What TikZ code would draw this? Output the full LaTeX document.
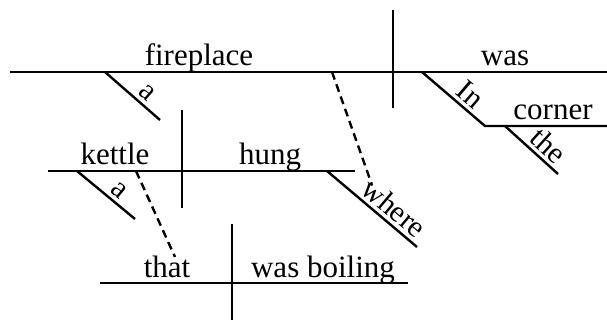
\documentclass[tikz,border=0pt]{standalone}
\usepackage{fontspec}
\setmainfont{Liberation Serif}
\begin{document}
\begin{tikzpicture}[x=1pt,y=-1pt,line width=2.4pt,
  word/.style={anchor=base,inner sep=0pt,font=\fontsize{31}{34}\selectfont},
  slopeword/.style={sloped,above,inner sep=3.5pt,font=\fontsize{30}{33}\selectfont},
  guide/.style={dash pattern=on 8pt off 5pt}]
\useasboundingbox (0,0) rectangle (607,320);

% main clause: fireplace | was
\coordinate (m1) at (10,72);   \coordinate (m2) at (607,72);
\coordinate (d1t) at (393,10); \coordinate (d1b) at (393,108);
\draw (m1) -- (m2);
\draw (d1t) -- (d1b);
\node[word] (fireplace) at (199,66) {fireplace};
\node[word] (was) at (505,66) {was};
\coordinate (a1s) at (105,72); \coordinate (a1e) at (160,120);
\draw (a1s) -- node[slopeword,pos=0.62] (a1) {a} (a1e);

% prepositional phrase: In the corner
\coordinate (ins) at (422,72); \coordinate (ine) at (485,126);
\coordinate (ce) at (607,126);
\draw (ins) -- node[slopeword,pos=0.62] (in) {In} (ine) -- (ce);
\node[word] (corner) at (553,120) {corner};
\coordinate (ths) at (505,126); \coordinate (the) at (558,174);
\draw (ths) -- node[slopeword,pos=0.64] (thew) {the} (the);

% relative clause: kettle | hung where
\coordinate (k1) at (48,171);   \coordinate (k2) at (355,171);
\coordinate (d2t) at (182,110); \coordinate (d2b) at (182,208);
\draw (k1) -- (k2);
\draw (d2t) -- (d2b);
\node[word] (kettle) at (115,165) {kettle};
\node[word] (hung) at (270,165) {hung};
\coordinate (a2s) at (77,171); \coordinate (a2e) at (135,219);
\draw (a2s) -- node[slopeword,pos=0.6] (a2) {a} (a2e);
\coordinate (whs) at (327,171); \coordinate (whe) at (417,247);
\draw (whs) -- node[slopeword,pos=0.64] (where) {where} (whe);
\coordinate (g1s) at (332,72); \coordinate (g1e) at (372,185);
\draw[guide] (g1s) -- (g1e);

% relative clause: that | was boiling
\coordinate (t1) at (100,283);  \coordinate (t2) at (408,283);
\coordinate (d3t) at (232,224); \coordinate (d3b) at (232,320);
\draw (t1) -- (t2);
\draw (d3t) -- (d3b);
\node[word] (that) at (167,277) {that};
\node[word] (boiling) at (323,277) {was boiling};
\coordinate (g2s) at (136,171); \coordinate (g2e) at (175,257);
\draw[guide] (g2s) -- (g2e);
\end{tikzpicture}
\end{document}
